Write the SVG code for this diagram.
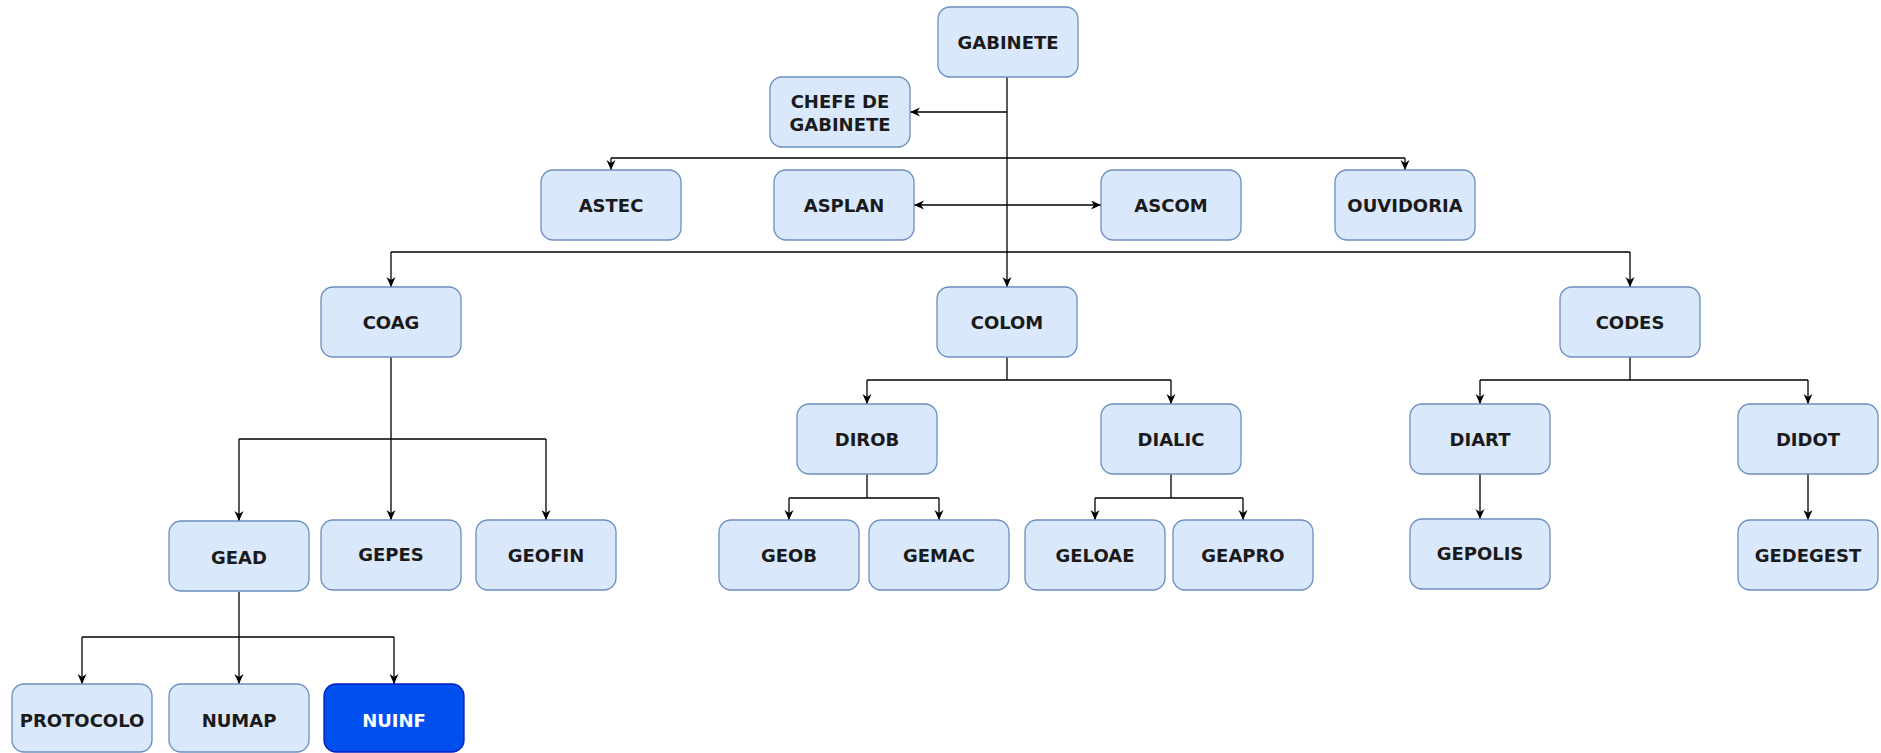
<svg xmlns="http://www.w3.org/2000/svg" width="1881" height="753" viewBox="0 0 1881 753">
<defs>
<marker id="arr" markerUnits="userSpaceOnUse" markerWidth="12" markerHeight="10" refX="10" refY="4.5" orient="auto-start-reverse" viewBox="0 0 12 10">
<path d="M0,0 L10,4.5 L0,9 L3,4.5 Z" fill="#000"/>
</marker>
<style>
.n rect{fill:#dae8fc;stroke:#6c8ebf;stroke-width:1.3}
.n text{font-family:"DejaVu Sans",Verdana,sans-serif;font-weight:bold;font-size:18px;fill:#1a1a1a;text-anchor:middle;dominant-baseline:central}
.n.blue rect{fill:#0050ef;stroke:#001dbc}
.n.blue text{fill:#fff}
.c path{fill:none;stroke:#000;stroke-width:1.3}
.c .a{marker-end:url(#arr)}
.c .d{marker-start:url(#arr);marker-end:url(#arr)}
</style>
</defs>
<g class="c" id="connectors">
<path class="a" d="M1007,77 V287"/>
<path class="a" d="M1007,112 H910"/>
<path d="M611,158 H1405"/>
<path class="a" d="M611,158 V170"/>
<path class="a" d="M1405,158 V170"/>
<path class="d" d="M914,205 H1101"/>
<path d="M391,252 H1630"/>
<path class="a" d="M391,252 V287"/>
<path class="a" d="M1630,252 V287"/>
<path class="a" d="M391,357 V520"/>
<path d="M239,439 H546"/>
<path class="a" d="M239,439 V521"/>
<path class="a" d="M546,439 V520"/>
<path class="a" d="M239,592 V684"/>
<path d="M82,637 H394"/>
<path class="a" d="M82,637 V684"/>
<path class="a" d="M394,637 V684"/>
<path d="M1007,357 V380 M867,380 H1171"/>
<path class="a" d="M867,380 V404"/>
<path class="a" d="M1171,380 V404"/>
<path d="M867,474 V498 M789,498 H939"/>
<path class="a" d="M789,498 V520"/>
<path class="a" d="M939,498 V520"/>
<path d="M1171,474 V498 M1095,498 H1243"/>
<path class="a" d="M1095,498 V520"/>
<path class="a" d="M1243,498 V520"/>
<path d="M1630,357 V380 M1480,380 H1808"/>
<path class="a" d="M1480,380 V404"/>
<path class="a" d="M1808,380 V404"/>
<path class="a" d="M1480,474 V519"/>
<path class="a" d="M1808,474 V520"/>
</g>
<g class="n" id="gabinete"><rect x="938" y="7" width="140" height="70" rx="12"/><text x="1008" y="42">GABINETE</text></g>
<g class="n" id="chefe"><rect x="770" y="77" width="140" height="70" rx="12"/><text x="840" y="101">CHEFE DE</text><text x="840" y="124">GABINETE</text></g>
<g class="n" id="astec"><rect x="541" y="170" width="140" height="70" rx="12"/><text x="611" y="205">ASTEC</text></g>
<g class="n" id="asplan"><rect x="774" y="170" width="140" height="70" rx="12"/><text x="844" y="205">ASPLAN</text></g>
<g class="n" id="ascom"><rect x="1101" y="170" width="140" height="70" rx="12"/><text x="1171" y="205">ASCOM</text></g>
<g class="n" id="ouvidoria"><rect x="1335" y="170" width="140" height="70" rx="12"/><text x="1405" y="205">OUVIDORIA</text></g>
<g class="n" id="coag"><rect x="321" y="287" width="140" height="70" rx="12"/><text x="391" y="322">COAG</text></g>
<g class="n" id="colom"><rect x="937" y="287" width="140" height="70" rx="12"/><text x="1007" y="322">COLOM</text></g>
<g class="n" id="codes"><rect x="1560" y="287" width="140" height="70" rx="12"/><text x="1630" y="322">CODES</text></g>
<g class="n" id="dirob"><rect x="797" y="404" width="140" height="70" rx="12"/><text x="867" y="439">DIROB</text></g>
<g class="n" id="dialic"><rect x="1101" y="404" width="140" height="70" rx="12"/><text x="1171" y="439">DIALIC</text></g>
<g class="n" id="diart"><rect x="1410" y="404" width="140" height="70" rx="12"/><text x="1480" y="439">DIART</text></g>
<g class="n" id="didot"><rect x="1738" y="404" width="140" height="70" rx="12"/><text x="1808" y="439">DIDOT</text></g>
<g class="n" id="gead"><rect x="169" y="521" width="140" height="70" rx="12"/><text x="239" y="557">GEAD</text></g>
<g class="n" id="gepes"><rect x="321" y="520" width="140" height="70" rx="12"/><text x="391" y="554">GEPES</text></g>
<g class="n" id="geofin"><rect x="476" y="520" width="140" height="70" rx="12"/><text x="546" y="555">GEOFIN</text></g>
<g class="n" id="geob"><rect x="719" y="520" width="140" height="70" rx="12"/><text x="789" y="555">GEOB</text></g>
<g class="n" id="gemac"><rect x="869" y="520" width="140" height="70" rx="12"/><text x="939" y="555">GEMAC</text></g>
<g class="n" id="geloae"><rect x="1025" y="520" width="140" height="70" rx="12"/><text x="1095" y="555">GELOAE</text></g>
<g class="n" id="geapro"><rect x="1173" y="520" width="140" height="70" rx="12"/><text x="1243" y="555">GEAPRO</text></g>
<g class="n" id="gepolis"><rect x="1410" y="519" width="140" height="70" rx="12"/><text x="1480" y="553">GEPOLIS</text></g>
<g class="n" id="gedegest"><rect x="1738" y="520" width="140" height="70" rx="12"/><text x="1808" y="555">GEDEGEST</text></g>
<g class="n" id="protocolo"><rect x="12" y="684" width="140" height="68" rx="12"/><text x="82" y="720">PROTOCOLO</text></g>
<g class="n" id="numap"><rect x="169" y="684" width="140" height="68" rx="12"/><text x="239" y="720">NUMAP</text></g>
<g class="n blue" id="nuinf"><rect x="324" y="684" width="140" height="68" rx="12"/><text x="394" y="720">NUINF</text></g>
</svg>
